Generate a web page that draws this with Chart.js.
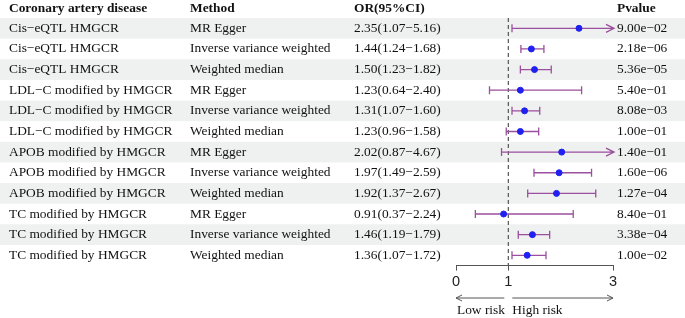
<!DOCTYPE html>
<html>
<head>
<meta charset="utf-8">
<script src="https://cdn.jsdelivr.net/npm/chart.js@4"></script>
<style>
  body { margin: 0; background: #fff; }
  canvas { display: block; }
</style>
</head>
<body>
<canvas id="forest" width="685" height="318"></canvas>
<script>
// Forest plot data
const exposures = [
  "Cis−eQTL HMGCR", "Cis−eQTL HMGCR", "Cis−eQTL HMGCR",
  "LDL−C modified by HMGCR", "LDL−C modified by HMGCR", "LDL−C modified by HMGCR",
  "APOB modified by HMGCR", "APOB modified by HMGCR", "APOB modified by HMGCR",
  "TC modified by HMGCR", "TC modified by HMGCR", "TC modified by HMGCR"
];
const methods = [
  "MR Egger", "Inverse variance weighted", "Weighted median",
  "MR Egger", "Inverse variance weighted", "Weighted median",
  "MR Egger", "Inverse variance weighted", "Weighted median",
  "MR Egger", "Inverse variance weighted", "Weighted median"
];
const orValues = [2.35, 1.44, 1.50, 1.23, 1.31, 1.23, 2.02, 1.97, 1.92, 0.91, 1.46, 1.36];
const lowerCI  = [1.07, 1.24, 1.23, 0.64, 1.07, 0.96, 0.87, 1.49, 1.37, 0.37, 1.19, 1.07];
const upperCI  = [5.16, 1.68, 1.82, 2.40, 1.60, 1.58, 4.67, 2.59, 2.67, 2.24, 1.79, 1.72];
const pValues = [
  "9.00e−02", "2.18e−06", "5.36e−05", "5.40e−01", "8.08e−03", "1.00e−01",
  "1.40e−01", "1.60e−06", "1.27e−04", "8.40e−01", "3.38e−04", "1.00e−02"
];
const xTicks = [0, 1, 3];
const headers = ["Coronary artery disease", "Method", "OR(95%CI)", "Pvalue"];

const fmt = v => v.toFixed(2);
const orLabels = orValues.map((v, i) => `${fmt(v)}(${fmt(lowerCI[i])}−${fmt(upperCI[i])})`);

const SERIF = '"Liberation Serif", "Times New Roman", serif';
const colX = [9, 190, 354, 617];
const lineColor = '#9b4f9f';

const forestPlugin = {
  id: 'forest',
  beforeDraw(chart) {
    const ctx = chart.ctx, y = chart.scales.y;
    ctx.save();
    ctx.fillStyle = '#eef1ef';
    for (let i = 0; i < orValues.length; i += 2) {
      const top = y.getPixelForValue(i - 0.5), bot = y.getPixelForValue(i + 0.5);
      ctx.fillRect(0, top, chart.width, bot - top);
    }
    ctx.restore();
  },
  beforeDatasetsDraw(chart) {
    const ctx = chart.ctx, x = chart.scales.x, y = chart.scales.y;
    const area = chart.chartArea;
    ctx.save();
    // reference line at OR = 1
    ctx.strokeStyle = '#555';
    ctx.lineWidth = 1.2;
    ctx.setLineDash([4, 3]);
    ctx.beginPath();
    ctx.moveTo(x.getPixelForValue(1), area.top);
    ctx.lineTo(x.getPixelForValue(1), area.bottom);
    ctx.stroke();
    ctx.setLineDash([]);
    // confidence intervals
    ctx.strokeStyle = lineColor;
    ctx.lineWidth = 1.3;
    const xmax = x.max;
    orValues.forEach((v, i) => {
      const py = y.getPixelForValue(i);
      const x0 = x.getPixelForValue(lowerCI[i]);
      const clipped = upperCI[i] > xmax;
      const x1 = x.getPixelForValue(Math.min(upperCI[i], xmax));
      ctx.beginPath();
      ctx.moveTo(x0, py); ctx.lineTo(x1, py);
      ctx.moveTo(x0, py - 4); ctx.lineTo(x0, py + 4);
      if (clipped) {
        ctx.moveTo(x1 - 7, py - 4); ctx.lineTo(x1 + 1, py); ctx.lineTo(x1 - 7, py + 4);
      } else {
        ctx.moveTo(x1, py - 4); ctx.lineTo(x1, py + 4);
      }
      ctx.stroke();
    });
    ctx.restore();
  },
  afterDraw(chart) {
    const ctx = chart.ctx, x = chart.scales.x, y = chart.scales.y;
    ctx.save();
    ctx.fillStyle = '#111';
    ctx.textBaseline = 'middle';
    // header
    ctx.font = 'bold 13.4px ' + SERIF;
    const hy = y.getPixelForValue(-1) + 1;
    headers.forEach((h, k) => ctx.fillText(h, colX[k], hy));
    // rows
    ctx.font = '13.4px ' + SERIF;
    orValues.forEach((v, i) => {
      const py = y.getPixelForValue(i);
      ctx.fillText(exposures[i], colX[0], py);
      ctx.fillText(methods[i], colX[1], py);
      ctx.fillText(orLabels[i], colX[2], py);
      ctx.fillText(pValues[i], colX[3], py);
    });
    // risk arrows under the axis
    const p0 = x.getPixelForValue(0), p1 = x.getPixelForValue(1), p3 = x.getPixelForValue(3);
    const ay = 298;
    ctx.strokeStyle = '#555';
    ctx.lineWidth = 1;
    ctx.beginPath();
    ctx.moveTo(p1 - 4, ay); ctx.lineTo(p0, ay);
    ctx.moveTo(p0 + 6, ay - 3); ctx.lineTo(p0, ay); ctx.lineTo(p0 + 6, ay + 3);
    ctx.moveTo(p1 + 4, ay); ctx.lineTo(p3, ay);
    ctx.moveTo(p3 - 6, ay - 3); ctx.lineTo(p3, ay); ctx.lineTo(p3 - 6, ay + 3);
    ctx.stroke();
    ctx.fillText('Low risk', p0 + 1, 310);
    ctx.fillText('High risk', p1 + 4, 310);
    ctx.restore();
  }
};

new Chart(document.getElementById('forest'), {
  type: 'scatter',
  data: {
    datasets: [{
      data: orValues.map((v, i) => ({ x: v, y: i })),
      backgroundColor: '#2020f0',
      borderColor: '#2020f0',
      pointRadius: 3,
      pointHoverRadius: 3
    }]
  },
  options: {
    responsive: false,
    animation: false,
    events: [],
    layout: { padding: { left: 456, right: 72, top: 18, bottom: 24 } },
    plugins: { legend: { display: false }, tooltip: { enabled: false } },
    scales: {
      x: {
        type: 'linear',
        min: 0,
        max: 3,
        afterBuildTicks: axis => { axis.ticks = xTicks.map(v => ({ value: v })); },
        grid: { drawOnChartArea: false, drawTicks: true, tickLength: 5, color: '#555' },
        border: { color: '#555', width: 1 },
        ticks: {
          color: '#222',
          padding: 3,
          maxRotation: 0,
          font: { family: '"Liberation Sans", Arial, sans-serif', size: 14.5 }
        }
      },
      y: {
        type: 'linear',
        min: -0.5,
        max: 11.5,
        reverse: true,
        display: false
      }
    }
  },
  plugins: [forestPlugin]
});
</script>
</body>
</html>
